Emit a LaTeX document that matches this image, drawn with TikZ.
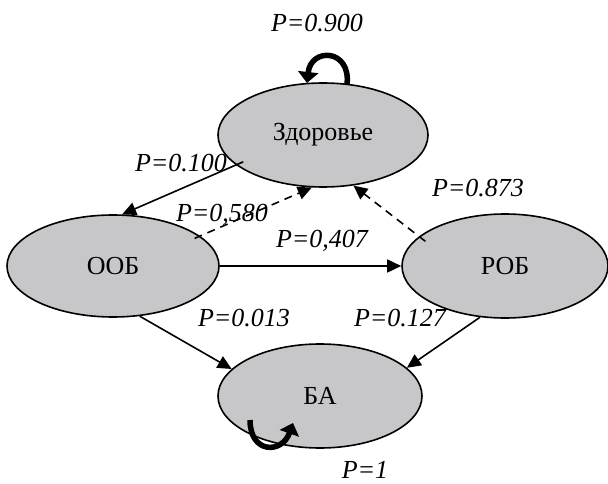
\documentclass[tikz,border=0pt]{standalone}
\usepackage{fontspec}
\setmainfont{Liberation Serif}
\usetikzlibrary{shapes.geometric,arrows.meta}
\definecolor{stfill}{RGB}{199,199,201}
\begin{document}
\begin{tikzpicture}[x=1pt,y=-1pt,
  state/.style={ellipse,draw,line width=1.6pt,fill=stfill,inner sep=0pt,font=\fontsize{26}{30}\selectfont},
  lab/.style={font=\fontsize{26}{30}\selectfont\itshape,inner sep=0pt},
  arr/.style={line width=1.6pt,-{Triangle[length=14pt,width=13pt]}},
  darr/.style={arr,dash pattern=on 8pt off 6pt},
  looparr/.style={line width=5.5pt,-{Triangle[length=11pt,width=20pt]}}]
\useasboundingbox (0,0) rectangle (608,484);
\node[state,minimum width=210pt,minimum height=104pt] (zd) at (323,135) {Здоровье};
\node[state,minimum width=212pt,minimum height=102pt] (oob) at (113,266) {ООБ};
\node[state,minimum width=206pt,minimum height=104pt] (rob) at (505,266) {РОБ};
\node[state,minimum width=204pt,minimum height=104pt] (ba) at (320,396) {БА};
% connectors
\draw[arr,shorten <=-8pt] (zd.199) -- (oob.80);
\draw[darr,shorten <=-6pt] (oob.19) -- (zd.258);
\draw[darr,shorten <=-8pt] (rob.161) -- (zd.301);
\draw[arr] (oob.east) -- (rob.west);
\draw[arr] (oob.298) -- (ba.163);
\draw[arr] (rob.244) -- (ba.18);
% self loops
\draw[looparr] ([shift={(24,-51)}]zd.center) .. controls ([shift={(28,-86)}]zd.center) and ([shift={(-12,-88)}]zd.center) .. ([shift={(-16,-52)}]zd.center);
\draw[looparr] ([shift={(-70,24)}]ba.center) .. controls ([shift={(-70,58)}]ba.center) and ([shift={(-38,58)}]ba.center) .. ([shift={(-27,27)}]ba.center);
% labels
\node[lab] (l1) at (317,23) {P=0.900};
\node[lab] (l2) at (181,163) {P=0.100};
\node[lab] (l3) at (222,215) {P=0,580};
\node[lab] (l4) at (322,241) {P=0,407};
\node[lab] (l5) at (478,188) {P=0.873};
\node[lab] (l6) at (244,318) {P=0.013};
\node[lab] (l7) at (400,318) {P=0.127};
\node[lab] (l8) at (365,470) {P=1};
\end{tikzpicture}
\end{document}
